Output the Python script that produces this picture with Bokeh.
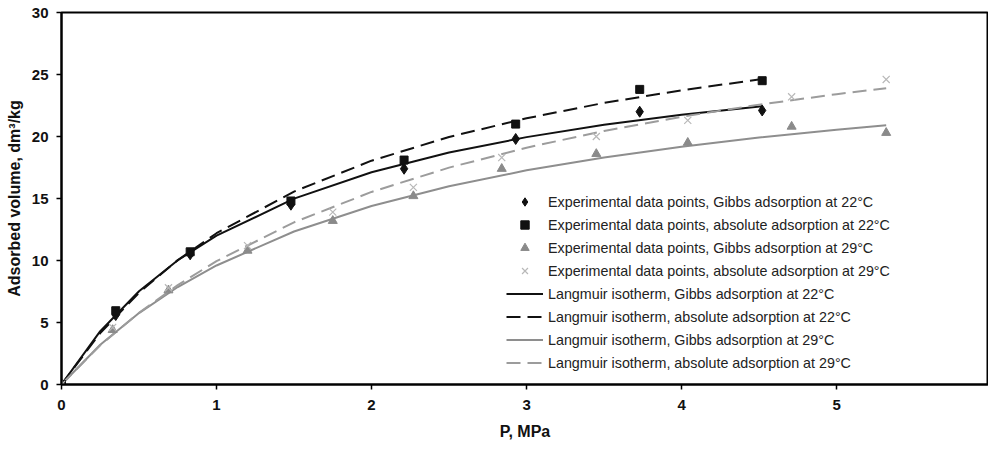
from bokeh.plotting import figure
from bokeh.models import Legend, LegendItem, Range1d, FixedTicker
from bokeh.embed import file_html
from bokeh.resources import INLINE

# Experimental data points
p_22 = [0, 0.35, 0.83, 1.48, 2.21, 2.93, 3.73, 4.52]
gibbs_22 = [0, 5.6, 10.5, 14.5, 17.4, 19.8, 22.0, 22.1]
abs_22 = [0, 5.95, 10.7, 14.8, 18.1, 21.0, 23.8, 24.5]

p_29 = [0, 0.33, 0.69, 1.2, 1.75, 2.27, 2.84, 3.45, 4.04, 4.71, 5.32]
gibbs_29 = [0, 4.4, 7.6, 10.8, 13.2, 15.2, 17.4, 18.6, 19.5, 20.8, 20.3]
abs_29 = [0, 4.6, 7.8, 11.2, 13.9, 15.9, 18.3, 20.0, 21.3, 23.2, 24.6]

# Langmuir isotherm curves
fit_p_22 = [0, 0.25, 0.5, 0.75, 1, 1.5, 2, 2.5, 3, 3.5, 4, 4.52]
lang_gibbs_22 = [0, 4.3, 7.52, 10.02, 12.0, 14.99, 17.12, 18.71, 19.95, 20.94, 21.75, 22.44]
lang_abs_22 = [0, 4.15, 7.4, 10.03, 12.2, 15.56, 18.05, 19.96, 21.47, 22.71, 23.73, 24.63]

fit_p_29 = [0, 0.25, 0.5, 0.75, 1, 1.5, 2, 2.5, 3, 3.5, 4, 4.5, 5, 5.32]
lang_gibbs_29 = [0, 3.2, 5.76, 7.86, 9.6, 12.34, 14.39, 15.99, 17.27, 18.31, 19.18, 19.91, 20.54, 20.9]
lang_abs_29 = [0, 3.17, 5.79, 8.02, 9.95, 13.08, 15.53, 17.49, 19.1, 20.45, 21.59, 22.57, 23.41, 23.9]

x_ticks = [0, 1, 2, 3, 4, 5, 6]
y_ticks = [0, 5, 10, 15, 20, 25, 30]

labels = [
    "Experimental data points, Gibbs adsorption at 22°C",
    "Experimental data points, absolute adsorption at 22°C",
    "Experimental data points, Gibbs adsorption at 29°C",
    "Experimental data points, absolute adsorption at 29°C",
    "Langmuir isotherm, Gibbs adsorption at 22°C",
    "Langmuir isotherm, absolute adsorption at 22°C",
    "Langmuir isotherm, Gibbs adsorption at 29°C",
    "Langmuir isotherm, absolute adsorption at 29°C",
]

FONT = "Liberation Sans"
BLACK = "#111111"
GRAY_SOLID = "#8e8e8e"
GRAY_DASH = "#9c9c9c"
TRI = "#8a8a8a"
XC = "#b8b8b8"

p = figure(width=988, height=445, output_backend="svg", toolbar_location=None,
           x_range=Range1d(0, 5.98), y_range=Range1d(0, 30),
           min_border_left=61, min_border_right=0, min_border_top=12, min_border_bottom=61)
p.background_fill_color = "white"
p.border_fill_color = "white"
p.outline_line_color = "black"
p.outline_line_width = 2
p.xgrid.visible = False
p.ygrid.visible = False

# curves
l1 = p.line(fit_p_22, lang_gibbs_22, line_color=BLACK, line_width=2)
l2 = p.line(fit_p_22, lang_abs_22, line_color=BLACK, line_width=2, line_dash="14 7")
l3 = p.line(fit_p_29, lang_gibbs_29, line_color=GRAY_SOLID, line_width=2)
l4 = p.line(fit_p_29, lang_abs_29, line_color=GRAY_DASH, line_width=2, line_dash="14 7")

# points
m1 = p.scatter(p_22, gibbs_22, marker="diamond", size=11, fill_color=BLACK, line_color=BLACK)
m2 = p.scatter(p_22, abs_22, marker="square", size=8, fill_color=BLACK, line_color=BLACK)
m3 = p.scatter(p_29, gibbs_29, marker="triangle", size=9, fill_color=TRI, line_color=TRI)
m4 = p.scatter(p_29, abs_29, marker="x", size=10, line_color=XC, line_width=1.2)

legend = Legend(items=[
    LegendItem(label=labels[0], renderers=[m1]),
    LegendItem(label=labels[1], renderers=[m2]),
    LegendItem(label=labels[2], renderers=[m3]),
    LegendItem(label=labels[3], renderers=[m4]),
    LegendItem(label=labels[4], renderers=[l1]),
    LegendItem(label=labels[5], renderers=[l2]),
    LegendItem(label=labels[6], renderers=[l3]),
    LegendItem(label=labels[7], renderers=[l4]),
], location=(445, 11))
legend.background_fill_alpha = 0
legend.border_line_color = None
legend.padding = 4
legend.margin = 0
legend.glyph_width = 37
legend.glyph_height = 21
legend.label_height = 21
legend.spacing = 2
legend.label_standoff = 5
legend.label_text_font = FONT
legend.label_text_font_size = "14.3px"
legend.label_text_color = "#222222"
p.add_layout(legend)

for ax in (p.xaxis[0], p.yaxis[0]):
    ax.axis_line_color = "black"
    ax.axis_line_width = 2
    ax.major_tick_line_color = "black"
    ax.major_tick_line_width = 1.5
    ax.major_tick_in = 0
    ax.major_tick_out = 5
    ax.minor_tick_line_color = None
    ax.major_label_text_font = FONT
    ax.major_label_text_font_size = "15px"
    ax.major_label_text_font_style = "bold"
    ax.major_label_text_color = "#111111"
    ax.axis_label_text_font = FONT
    ax.axis_label_text_font_size = "16px"
    ax.axis_label_text_font_style = "bold"
    ax.axis_label_text_color = "#111111"

p.xaxis.ticker = FixedTicker(ticks=x_ticks)
p.yaxis.ticker = FixedTicker(ticks=y_ticks)
p.xaxis.axis_label = "P, MPa"
p.yaxis.axis_label = "Adsorbed volume, dm³/kg"
p.xaxis.major_label_standoff = 10
p.xaxis.axis_label_standoff = 10
p.yaxis.major_label_standoff = 8
p.yaxis.axis_label_standoff = 6

open("out.html", "w").write(file_html(p, INLINE))
